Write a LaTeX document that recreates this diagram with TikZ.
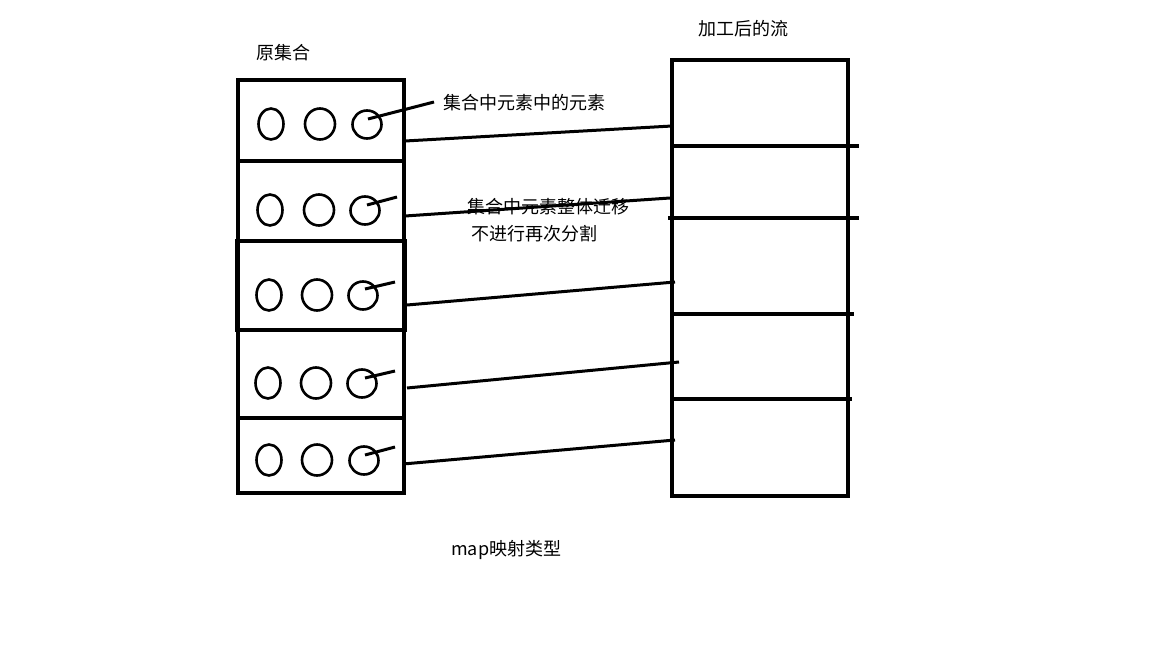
\documentclass[tikz,border=0pt]{standalone}
\usepackage{fontspec}
\setmainfont{Noto Sans CJK SC}
\begin{document}
\begin{tikzpicture}[x=1pt,y=-1pt,
  box/.style={line width=3.2pt},
  ring/.style={line width=2.6pt},
  link/.style={line width=3pt},
  lbl/.style={inner sep=0pt,anchor=west,font=\fontsize{18pt}{20pt}\selectfont}]
\useasboundingbox[fill=white] (0,0) rectangle (1152,648);
% left box
\draw[box] (238,80) rectangle (404,493);
\draw[box] (238,161) -- (404,161);
\draw[box,line width=3.8pt] (237,241) rectangle (405,330);
\draw[box] (238,418) -- (404,418);
% circles
\foreach \y/\a/\b/\c [count=\i] in {124/271/320/367, 210/270/319/365, 295/269/317/363, 383/268/316/362, 460/269/317/364}{
  \draw[ring] (\a,\y) ellipse [x radius=12.5, y radius=15.5];
  \draw[ring] (\b,\y) ellipse [x radius=15, y radius=15.5];
  \draw[ring] (\c,\y+0.5) ellipse [x radius=14.5, y radius=14];
}
% pointer coordinates
\coordinate (p1a) at (368,119); \coordinate (p1b) at (434,102);
\coordinate (p2a) at (367,205); \coordinate (p2b) at (397,197);
\coordinate (p3a) at (365,289); \coordinate (p3b) at (395,282);
\coordinate (p4a) at (365,378); \coordinate (p4b) at (395,371);
\coordinate (p5a) at (365,455); \coordinate (p5b) at (395,447);
\foreach \i in {1,...,5}{\draw[link] (p\i a) -- (p\i b);}
% right box
\draw[box] (672,60) rectangle (848,496);
\draw[box] (672,146) -- (859,146);
\draw[box] (668,218) -- (859,218);
\draw[box] (672,314) -- (854,314);
\draw[box] (672,399) -- (852,399);
% connectors
\coordinate (l1) at (405,141); \coordinate (r1) at (672,126);
\coordinate (l2) at (405,216); \coordinate (r2) at (670,198);
\coordinate (l3) at (407,305); \coordinate (r3) at (675,282);
\coordinate (l4) at (407,388); \coordinate (r4) at (679,362);
\coordinate (l5) at (403,464); \coordinate (r5) at (675,440);
\foreach \i in {1,...,5}{\draw[link] (l\i) -- (r\i);}
% labels
\node[lbl] (t1) at (256,53) {原集合};
\node[lbl] (t2) at (698,29) {加工后的流};
\node[lbl] (t3) at (443,103) {集合中元素中的元素};
\node[lbl] (t4) at (467,207) {集合中元素整体迁移};
\node[lbl] (t5) at (471,234) {不进行再次分割};
\node[lbl] (t6) at (451,550) {map映射类型};
\end{tikzpicture}
\end{document}
